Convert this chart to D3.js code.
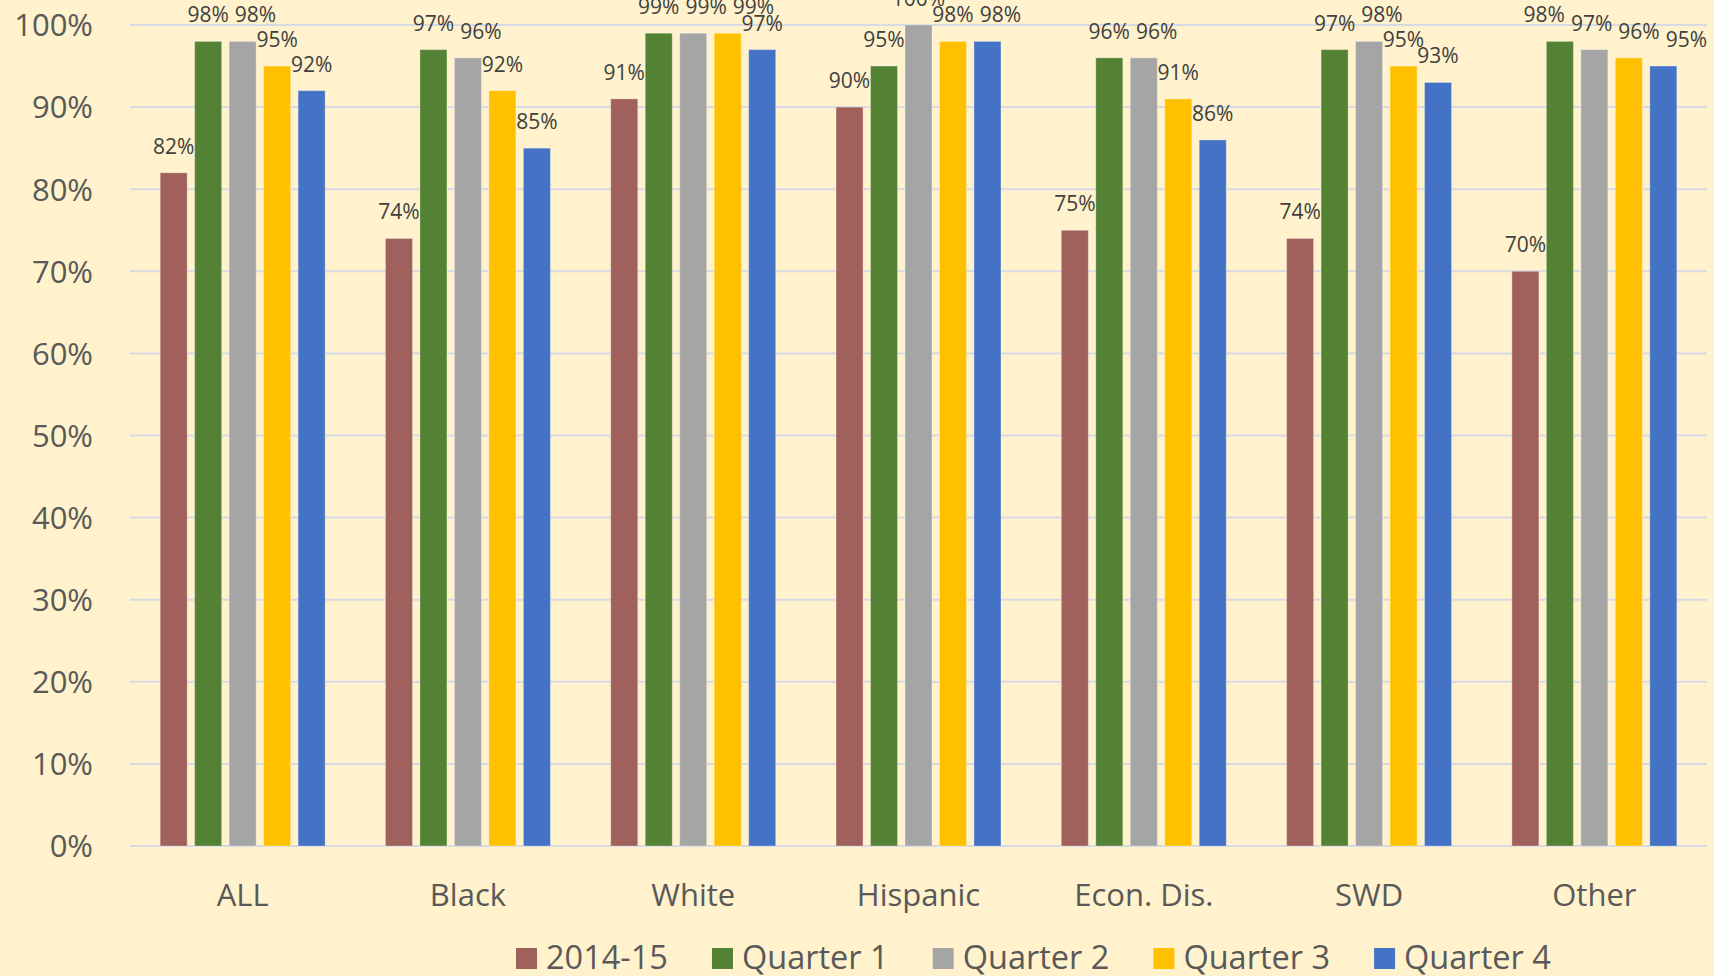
<!DOCTYPE html>
<html>
<head>
<meta charset="utf-8">
<script src="https://d3js.org/d3.v7.min.js"></script>
<style>
body{margin:0;background:#FFF2CC;}
text{font-family:"Open Sans","Noto Sans",sans-serif;}
</style>
</head>
<body>
<svg id="chart" width="1714" height="976"></svg>
<script>
var groups = ["ALL","Black","White","Hispanic","Econ. Dis.","SWD","Other"];
var seriesNames = ["2014-15","Quarter 1","Quarter 2","Quarter 3","Quarter 4"];
var v2014 = [0.82,0.74,0.91,0.90,0.75,0.74,0.70];
var q1 = [0.98,0.97,0.99,0.95,0.96,0.97,0.98];
var q2 = [0.98,0.96,0.99,1.00,0.96,0.98,0.97];
var q3 = [0.95,0.92,0.99,0.98,0.91,0.95,0.96];
var q4 = [0.92,0.85,0.97,0.98,0.86,0.93,0.95];
var yTicks = [0,0.1,0.2,0.3,0.4,0.5,0.6,0.7,0.8,0.9,1.0];
var colors = ["#A0605C","#548235","#A5A5A5","#FFC000","#4472C4"];

var allSeries = [v2014,q1,q2,q3,q4];
var svg = d3.select("#chart");
svg.append("rect").attr("width",1714).attr("height",976).attr("fill","#FFF2CC");

var pLeft = 130, pRight = 1707, pTop = 25, pBottom = 846;
var x0 = d3.scaleBand().domain(groups).range([pLeft,pRight]).padding(0);
var x1 = d3.scaleBand().domain(seriesNames).range([0,x0.bandwidth()]).paddingInner(0.217).paddingOuter(0.875);
var y = d3.scaleLinear().domain([0,1]).range([pBottom,pTop]);
var fmt = d3.format(".0%");

// gridlines
svg.append("g").selectAll("line").data(yTicks).enter().append("line")
  .attr("x1",pLeft).attr("x2",pRight)
  .attr("y1",function(d){return y(d);}).attr("y2",function(d){return y(d);})
  .attr("stroke","#D6DAE4").attr("stroke-width",2);

// y axis labels
var yAxis = d3.axisLeft(y).tickValues(yTicks).tickFormat(fmt).tickSize(0).tickPadding(0);
var yg = svg.append("g").attr("transform","translate(93,0)").call(yAxis);
yg.select(".domain").remove();
yg.selectAll("text").attr("font-size",31).attr("fill","#595959")
  .attr("font-family","'Open Sans','Noto Sans',sans-serif").attr("dy","0.35em");

// x axis labels
var xAxis = d3.axisBottom(x0).tickSize(0).tickPadding(0);
var xg = svg.append("g").attr("transform","translate(0,906)").call(xAxis);
xg.select(".domain").remove();
xg.selectAll("text").attr("font-size",31).attr("fill","#595959")
  .attr("font-family","'Open Sans','Noto Sans',sans-serif").attr("dy",0);

// bars
var rows = [];
groups.forEach(function(g,gi){
  seriesNames.forEach(function(s,si){
    rows.push({group:g,series:s,si:si,value:allSeries[si][gi]});
  });
});

svg.append("g").selectAll("rect").data(rows).enter().append("rect")
  .attr("x",function(d){return x0(d.group)+x1(d.series);})
  .attr("width",x1.bandwidth())
  .attr("y",function(d){return y(d.value);})
  .attr("height",function(d){return pBottom-y(d.value);})
  .attr("fill",function(d){return colors[d.si];})
  .attr("stroke","#ffffff").attr("stroke-opacity",0.3).attr("stroke-width",1);

// data labels: pushed right when they collide, pulled back at the right edge
var lab = svg.append("g").selectAll("text").data(rows).enter().append("text")
  .attr("font-size",21).attr("fill","#404040").attr("text-anchor","middle")
  .text(function(d){return fmt(d.value);});
lab.each(function(d){
  d.w = this.getComputedTextLength();
  d.lx = x0(d.group)+x1(d.series)+x1.bandwidth()/2;
  d.ly = y(d.value)-19;
});
function hits(a,b){return Math.abs(a.ly-b.ly)<16;}
function need(a,b){return (a.w+b.w)/2+6;}
groups.forEach(function(g){
  var ls = rows.filter(function(d){return d.group==g;});
  for(var i=0;i<ls.length;i++){
    for(var j=0;j<i;j++){
      if(hits(ls[j],ls[i]) && ls[i].lx-ls[j].lx<need(ls[j],ls[i])) ls[i].lx=ls[j].lx+need(ls[j],ls[i]);
    }
  }
  for(var i=ls.length-1;i>=0;i--){
    var a=ls[i];
    a.lx=Math.min(a.lx,pRight-a.w/2);
    for(var j=i+1;j<ls.length;j++){
      if(hits(a,ls[j])) a.lx=Math.min(a.lx,ls[j].lx-need(a,ls[j]));
    }
  }
});
lab.attr("x",function(d){return d.lx;}).attr("y",function(d){return d.ly;});

// legend
var leg = svg.append("g").attr("transform","translate(516,0)");
var lx = 0;
seriesNames.forEach(function(s,i){
  leg.append("rect").attr("x",lx).attr("y",948).attr("width",21).attr("height",21).attr("fill",colors[i]);
  var t = leg.append("text").attr("x",lx+30).attr("y",969).attr("font-size",32.5).attr("fill","#595959").text(s);
  lx += 30+t.node().getComputedTextLength()+44;
});
</script>
</body>
</html>
